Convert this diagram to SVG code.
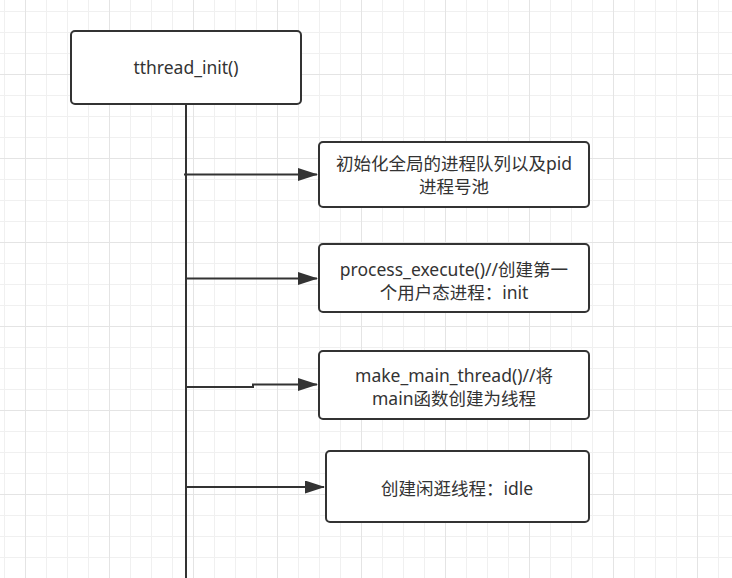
<svg xmlns="http://www.w3.org/2000/svg" width="732" height="578" viewBox="0 0 732 578">
  <style>
    .node rect { fill: #ffffff; stroke: #333333; stroke-width: 2; }
    .node text { font-family: "Noto Sans", "Noto Sans CJK SC", sans-serif; font-size: 17.5px; fill: #333333; text-anchor: middle; dominant-baseline: central; }
    .conn { fill: none; stroke: #333333; stroke-width: 2; }
  </style>
  <defs>
    <pattern id="minor" patternUnits="userSpaceOnUse" x="4" y="11" width="21" height="21">
      <rect x="0" y="0" width="1" height="21" fill="#f0f0f0"/>
      <rect x="0" y="0" width="21" height="1" fill="#f0f0f0"/>
    </pattern>
    <pattern id="major" patternUnits="userSpaceOnUse" x="25" y="74" width="84" height="84">
      <rect x="0" y="0" width="1" height="84" fill="#e4e4e4"/>
      <rect x="0" y="0" width="84" height="1" fill="#e4e4e4"/>
    </pattern>
    <marker id="arrow" viewBox="0 0 20 13" refX="19" refY="6.5" markerWidth="20" markerHeight="13" markerUnits="userSpaceOnUse" orient="auto">
      <path d="M0,0 L20,6.5 L0,13 Z" fill="#333333"/>
    </marker>
  </defs>
  <rect width="732" height="578" fill="#ffffff"/>
  <rect width="732" height="578" fill="url(#minor)"/>
  <rect width="732" height="578" fill="url(#major)"/>

  <g id="connectors">
    <path class="conn" d="M186 104 L186 578"/>
    <path class="conn" d="M184 174.5 L317 174.5" marker-end="url(#arrow)"/>
    <path class="conn" d="M186 278.5 L317 278.5" marker-end="url(#arrow)"/>
    <path class="conn" d="M186 387 L253 387 L253 384.5 L317 384.5" marker-end="url(#arrow)"/>
    <path class="conn" d="M185 487 L324 487" marker-end="url(#arrow)"/>
  </g>

  <g id="tthread_init" class="node">
    <rect x="71" y="31" width="230" height="73" rx="4" ry="4"/>
    <text x="186" y="67">tthread_init()</text>
  </g>
  <g id="init_queue" class="node">
    <rect x="319" y="142" width="270" height="65" rx="4" ry="4"/>
    <text x="454" y="162.5">初始化全局的进程队列以及pid</text>
    <text x="454" y="185.5">进程号池</text>
  </g>
  <g id="process_execute" class="node">
    <rect x="319" y="244" width="270" height="68" rx="4" ry="4"/>
    <text x="454" y="268.5">process_execute()//创建第一</text>
    <text x="454" y="291.5">个用户态进程：init</text>
  </g>
  <g id="make_main_thread" class="node">
    <rect x="319" y="351" width="270" height="68" rx="4" ry="4"/>
    <text x="454" y="375">make_main_thread()//将</text>
    <text x="454" y="398">main函数创建为线程</text>
  </g>
  <g id="idle_thread" class="node">
    <rect x="326" y="451" width="263" height="71" rx="4" ry="4"/>
    <text x="457" y="487.5">创建闲逛线程：idle</text>
  </g>
</svg>
